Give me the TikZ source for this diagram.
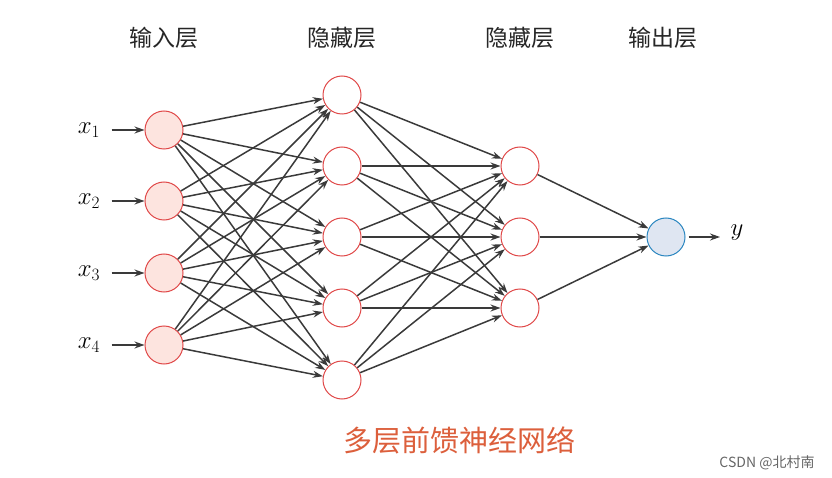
\documentclass[tikz,border=0pt]{standalone}
\usepackage{fontspec}
\newfontfamily\cjk{Noto Sans CJK SC}
\usetikzlibrary{arrows.meta}
\definecolor{inred}{HTML}{E04848}
\definecolor{infill}{HTML}{FDE4DF}
\definecolor{outblue}{HTML}{2A86C0}
\definecolor{outfill}{HTML}{DFE6F2}
\definecolor{edgegray}{HTML}{3A3A3A}
\definecolor{titlecol}{HTML}{DC5F3C}
\tikzset{
  neuron/.style={circle,draw=inred,line width=1pt,minimum size=38pt,inner sep=0pt},
  inneuron/.style={neuron,fill=infill},
  hidneuron/.style={neuron,fill=white},
  outneuron/.style={circle,draw=outblue,fill=outfill,line width=1pt,minimum size=38pt,inner sep=0pt},
  conn/.style={draw=edgegray,line width=1.5pt,-{Stealth[length=10pt,width=7pt]}},
  layerlabel/.style={font=\cjk\fontsize{23}{23}\selectfont,text=black!85},
  varlabel/.style={font=\fontsize{27}{27}\selectfont}
}
\begin{document}
\begin{tikzpicture}[x=1pt,y=-1pt]
\useasboundingbox (0,0) rectangle (832,478);
% input layer
\foreach \i/\y in {1/130,2/201,3/273,4/345}{
  \node[inneuron] (I\i) at (164,\y) {};
  \node[varlabel] (X\i) at (89,\y) {$x_{\i}$};
  \draw[conn] (X\i.east) ++(8,0) coordinate (XS\i) -- (I\i.west);
}
% hidden layer 1
\foreach \i/\y in {1/95,2/166,3/237,4/308,5/380}{
  \node[hidneuron] (H\i) at (342,\y) {};
}
% hidden layer 2
\foreach \i/\y in {1/166,2/237,3/308}{
  \node[hidneuron] (G\i) at (520,\y) {};
}
% output
\node[outneuron] (O) at (666,237) {};
\node[varlabel] (Y) at (737,233) {$y$};
\coordinate (YE) at (720,237);
\draw[conn] (O.east) ++(3,0) -- (YE);
% connections
\foreach \i in {1,...,4}{\foreach \j in {1,...,5}{\draw[conn] (I\i) -- (H\j);}}
\foreach \i in {1,...,5}{\foreach \j in {1,...,3}{\draw[conn] (H\i) -- (G\j);}}
\foreach \j in {1,...,3}{\draw[conn] (G\j) -- (O);}
% layer labels
\node[layerlabel] (L1) at (164,38) {输入层};
\node[layerlabel] (L2) at (342,38) {隐藏层};
\node[layerlabel] (L3) at (520,38) {隐藏层};
\node[layerlabel] (L4) at (663,38) {输出层};
% title
\node[font=\cjk\fontsize{29}{29}\selectfont,text=titlecol] (T) at (459,440) {多层前馈神经网络};
% watermark
\node[font=\cjk\fontsize{14}{14}\selectfont,text=black!60] (W) at (767,463) {CSDN @北村南};
\end{tikzpicture}
\end{document}
